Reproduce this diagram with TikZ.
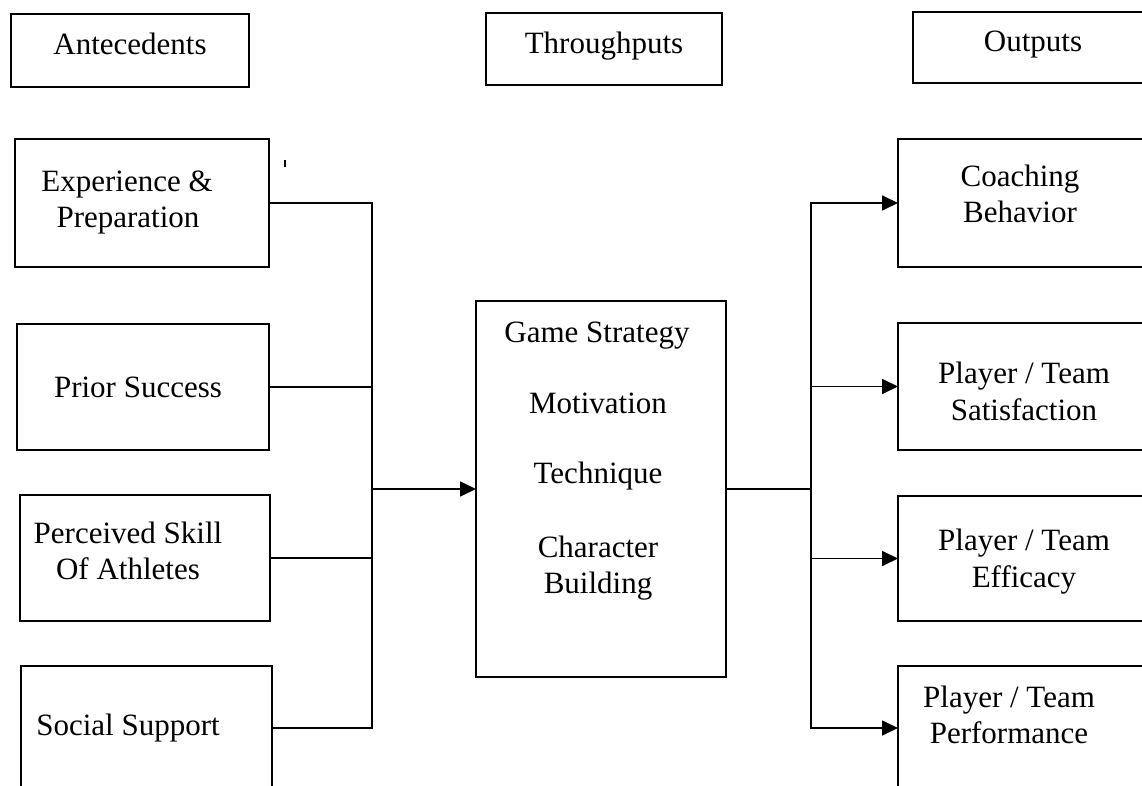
\documentclass[tikz,border=0pt]{standalone}
\usepackage{fontspec}
\setmainfont{Liberation Serif}
\usetikzlibrary{arrows.meta}

\begin{document}
\begin{tikzpicture}[x=1pt,y=-1pt,
  box/.style={draw, line width=1.7pt, rectangle, inner sep=0pt, outer sep=0pt, anchor=north west},
  lbl/.style={inner sep=0pt, anchor=base, font=\fontsize{31}{36}\selectfont},
  wire/.style={line width=1.7pt},
  arr/.style={wire, -{Triangle[length=16pt,width=15pt]}}]
\useasboundingbox (0,0) rectangle (1142,786);

% column headings
\node[box, minimum width=238pt, minimum height=73pt] (hA) at (11,14) {};
\node[box, minimum width=236pt, minimum height=72pt] (hT) at (486,13) {};
\node[box, minimum width=250pt, minimum height=71pt] (hO) at (913,12) {};
\node[lbl] (hAt) at (130,55) {Antecedents};
\node[lbl] (hTt) at (604,54) {Throughputs};
\node[lbl] (hOt) at (1033,52) {Outputs};

% antecedent boxes
\node[box, minimum width=254pt, minimum height=128pt] (exp) at (15,139) {};
\node[box, minimum width=252pt, minimum height=126pt] (pri) at (17,324) {};
\node[box, minimum width=250pt, minimum height=126pt] (per) at (20,495) {};
\node[box, minimum width=251pt, minimum height=124pt] (soc) at (21,666) {};
\node[lbl] (exp1) at (127,192) {Experience \&};
\node[lbl] (exp2) at (128,228) {Preparation};
\node[lbl] (pri1) at (138,397) {Prior Success};
\node[lbl] (per1) at (128,543) {Perceived Skill};
\node[lbl] (per2) at (128,579) {Of Athletes};
\node[lbl] (soc1) at (128,735) {Social Support};

% throughput box
\node[box, minimum width=250pt, minimum height=376pt] (mid) at (476,301) {};
\node[lbl] (mid1) at (597,342) {Game Strategy};
\node[lbl] (mid2) at (598,413) {Motivation};
\node[lbl] (mid3) at (598,483) {Technique};
\node[lbl] (mid4) at (598,557) {Character};
\node[lbl] (mid5) at (598,593) {Building};

% output boxes
\node[box, minimum width=250pt, minimum height=128pt] (coa) at (898,139) {};
\node[box, minimum width=250pt, minimum height=127pt] (sat) at (898,323) {};
\node[box, minimum width=250pt, minimum height=125pt] (eff) at (898,496) {};
\node[box, minimum width=250pt, minimum height=124pt] (prf) at (898,666) {};
\node[lbl] (coa1) at (1020,187) {Coaching};
\node[lbl] (coa2) at (1020,223) {Behavior};
\node[lbl] (sat1) at (1024,383) {Player / Team};
\node[lbl] (sat2) at (1024,420) {Satisfaction};
\node[lbl] (eff1) at (1024,550) {Player / Team};
\node[lbl] (eff2) at (1024,587) {Efficacy};
\node[lbl] (prf1) at (1009,707) {Player / Team};
\node[lbl] (prf2) at (1009,743) {Performance};

% junction points of the two buses
\coordinate (jl) at (372,489);
\coordinate (jr) at (811,489);

% left bus into the throughput box
\draw[wire] (exp.east) -| (jl);
\draw[wire] (soc.east) -| (jl);
\draw[wire] (pri.east) -- (pri.east -| jl);
\draw[wire] (per.east) -- (per.east -| jl);
\draw[arr] (jl) -- (mid.west);

% right bus out to the outputs
\draw[wire] (mid.east) -- (jr);
\draw[arr] (jr) |- (coa.west);
\draw[arr] (jr) |- (sat.west);
\draw[arr] (jr) |- (eff.west);
\draw[arr] (jr) |- (prf.west);

% small stray tick
\draw[line width=1.2pt] (285,160) -- (285,167);
\end{tikzpicture}
\end{document}
